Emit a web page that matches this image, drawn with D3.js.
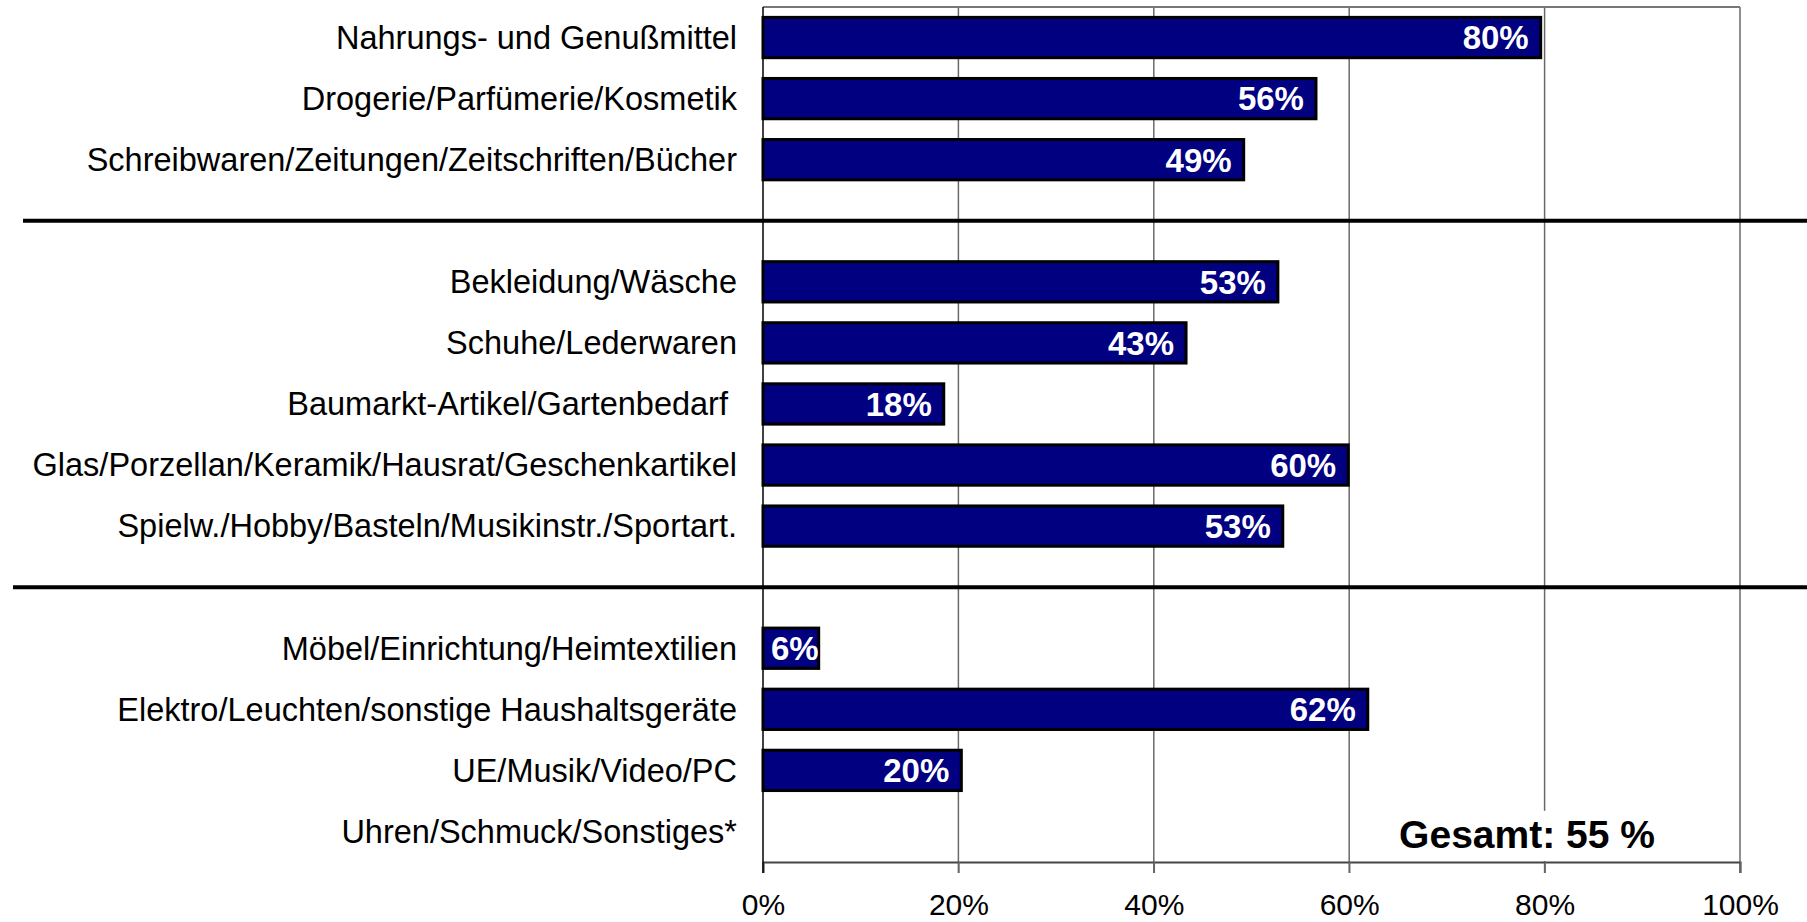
<!DOCTYPE html>
<html>
<head>
<meta charset="utf-8">
<script src="https://cdn.jsdelivr.net/npm/d3@7"></script>
<style>
  body { margin: 0; background: #fff; }
  svg { display: block; font-family: "Liberation Sans", Arial, sans-serif; }
</style>
</head>
<body>
<svg id="chart"></svg>
<script>
// Data
const categories = [
    'Nahrungs- und Genußmittel',
    'Drogerie/Parfümerie/Kosmetik',
    'Schreibwaren/Zeitungen/Zeitschriften/Bücher',
    'sep1',
    'Bekleidung/Wäsche',
    'Schuhe/Lederwaren',
    'Baumarkt-Artikel/Gartenbedarf ',
    'Glas/Porzellan/Keramik/Hausrat/Geschenkartikel',
    'Spielw./Hobby/Basteln/Musikinstr./Sportart.',
    'sep2',
    'Möbel/Einrichtung/Heimtextilien',
    'Elektro/Leuchten/sonstige Haushaltsgeräte',
    'UE/Musik/Video/PC',
    'Uhren/Schmuck/Sonstiges*'
];
const values = [79.6, 56.6, 49.2, null, 52.7, 43.3, 18.5, 59.9, 53.2, null, 5.7, 61.9, 20.3, null];
const valueLabels = ['80%', '56%', '49%', '', '53%', '43%', '18%', '60%', '53%', '', '6%', '62%', '20%', ''];
const separators = ['sep1', 'sep2'];
const xTicks = [0, 20, 40, 60, 80, 100];
const totalLabel = 'Gesamt: 55 %';

const width = 1807, height = 922;
const margin = { top: 7, right: 67, bottom: 60, left: 763 };
const inner = { w: width - margin.left - margin.right, h: height - margin.top - margin.bottom };

const svg = d3.select('#chart').attr('width', width).attr('height', height);
const g = svg.append('g').attr('transform', `translate(${margin.left},${margin.top})`);

// Scales
const x = d3.scaleLinear().domain([0, 100]).range([0, inner.w]);
const y = d3.scaleBand().domain(categories).range([0, inner.h])
    .paddingInner(0.34).paddingOuter(0.17);

// Grid lines
g.append('g')
    .selectAll('line')
    .data(xTicks.slice(1))
    .join('line')
    .attr('x1', d => x(d)).attr('x2', d => x(d))
    .attr('y1', 0).attr('y2', inner.h + 11)
    .attr('stroke', '#6a6a6a')
    .attr('stroke-width', 1.5);

// Top border
g.append('line')
    .attr('x1', 0).attr('x2', x(100))
    .attr('y1', 0).attr('y2', 0)
    .attr('stroke', '#777').attr('stroke-width', 2);

// Bottom axis
const xAxis = g.append('g')
    .attr('transform', `translate(0,${inner.h})`)
    .call(d3.axisBottom(x).tickValues(xTicks).tickSize(11).tickPadding(21).tickFormat(d => d + '%'));
xAxis.select('.domain').attr('stroke', '#444').attr('stroke-width', 2);
xAxis.selectAll('.tick line').attr('stroke', '#666').attr('stroke-width', 1.5);
xAxis.selectAll('text')
    .style('font-family', '"Liberation Sans", Arial, sans-serif')
    .style('font-size', '30px')
    .attr('fill', '#000');

// Zero axis
g.append('line')
    .attr('x1', 0).attr('x2', 0)
    .attr('y1', 0).attr('y2', inner.h + 11)
    .attr('stroke', '#000').attr('stroke-width', 1.5);

// Separator lines
svg.selectAll('.sep')
    .data(separators)
    .join('line')
    .attr('class', 'sep')
    .attr('x1', (d, i) => i === 0 ? 23 : 13)
    .attr('x2', width)
    .attr('y1', d => margin.top + y(d) + y.bandwidth() / 2)
    .attr('y2', d => margin.top + y(d) + y.bandwidth() / 2)
    .attr('stroke', '#000')
    .attr('stroke-width', 4);

// Category labels
g.append('g')
    .selectAll('text')
    .data(categories.filter(c => !separators.includes(c)))
    .join('text')
    .attr('x', -26)
    .attr('y', d => y(d) + y.bandwidth() / 2)
    .attr('dy', '0.35em')
    .attr('text-anchor', 'end')
    .style('font-size', '32.5px')
    .style('white-space', 'pre')
    .text(d => d);

// Bars
const barData = categories.map((c, i) => ({ cat: c, val: values[i], label: valueLabels[i], i }))
    .filter(d => d.val !== null);

const defs = svg.append('defs');
barData.forEach(d => {
    defs.append('clipPath').attr('id', 'clip' + d.i)
        .append('rect')
        .attr('x', 0)
        .attr('y', y(d.cat))
        .attr('width', x(d.val))
        .attr('height', y.bandwidth());
});

const bars = g.append('g').selectAll('g').data(barData).join('g');
bars.append('rect')
    .attr('x', 0)
    .attr('y', d => y(d.cat))
    .attr('width', d => x(d.val))
    .attr('height', d => y.bandwidth())
    .attr('fill', '#000080')
    .attr('stroke', '#000')
    .attr('stroke-width', 3);

bars.append('text')
    .attr('clip-path', d => `url(#clip${d.i})`)
    .attr('x', d => x(d.val) < 80 ? 8 : x(d.val) - 12)
    .attr('y', d => y(d.cat) + y.bandwidth() / 2)
    .attr('dy', '0.36em')
    .attr('text-anchor', d => x(d.val) < 80 ? 'start' : 'end')
    .style('font-size', '33px')
    .style('font-weight', 'bold')
    .attr('fill', '#fff')
    .text(d => d.label);

// Total label with white backing
const lastCat = categories[categories.length - 1];
const total = g.append('g');
const totalText = total.append('text')
    .attr('x', x(78.2))
    .attr('y', y(lastCat) + y.bandwidth() / 2)
    .attr('dy', '0.42em')
    .attr('text-anchor', 'middle')
    .style('font-size', '39px')
    .style('font-weight', 'bold')
    .attr('fill', '#000')
    .text(totalLabel);
const bb = totalText.node().getBBox();
total.insert('rect', 'text')
    .attr('x', bb.x - 4)
    .attr('y', bb.y - 2)
    .attr('width', bb.width + 8)
    .attr('height', inner.h - bb.y + 1)
    .attr('fill', '#fff');
</script>
</body>
</html>
